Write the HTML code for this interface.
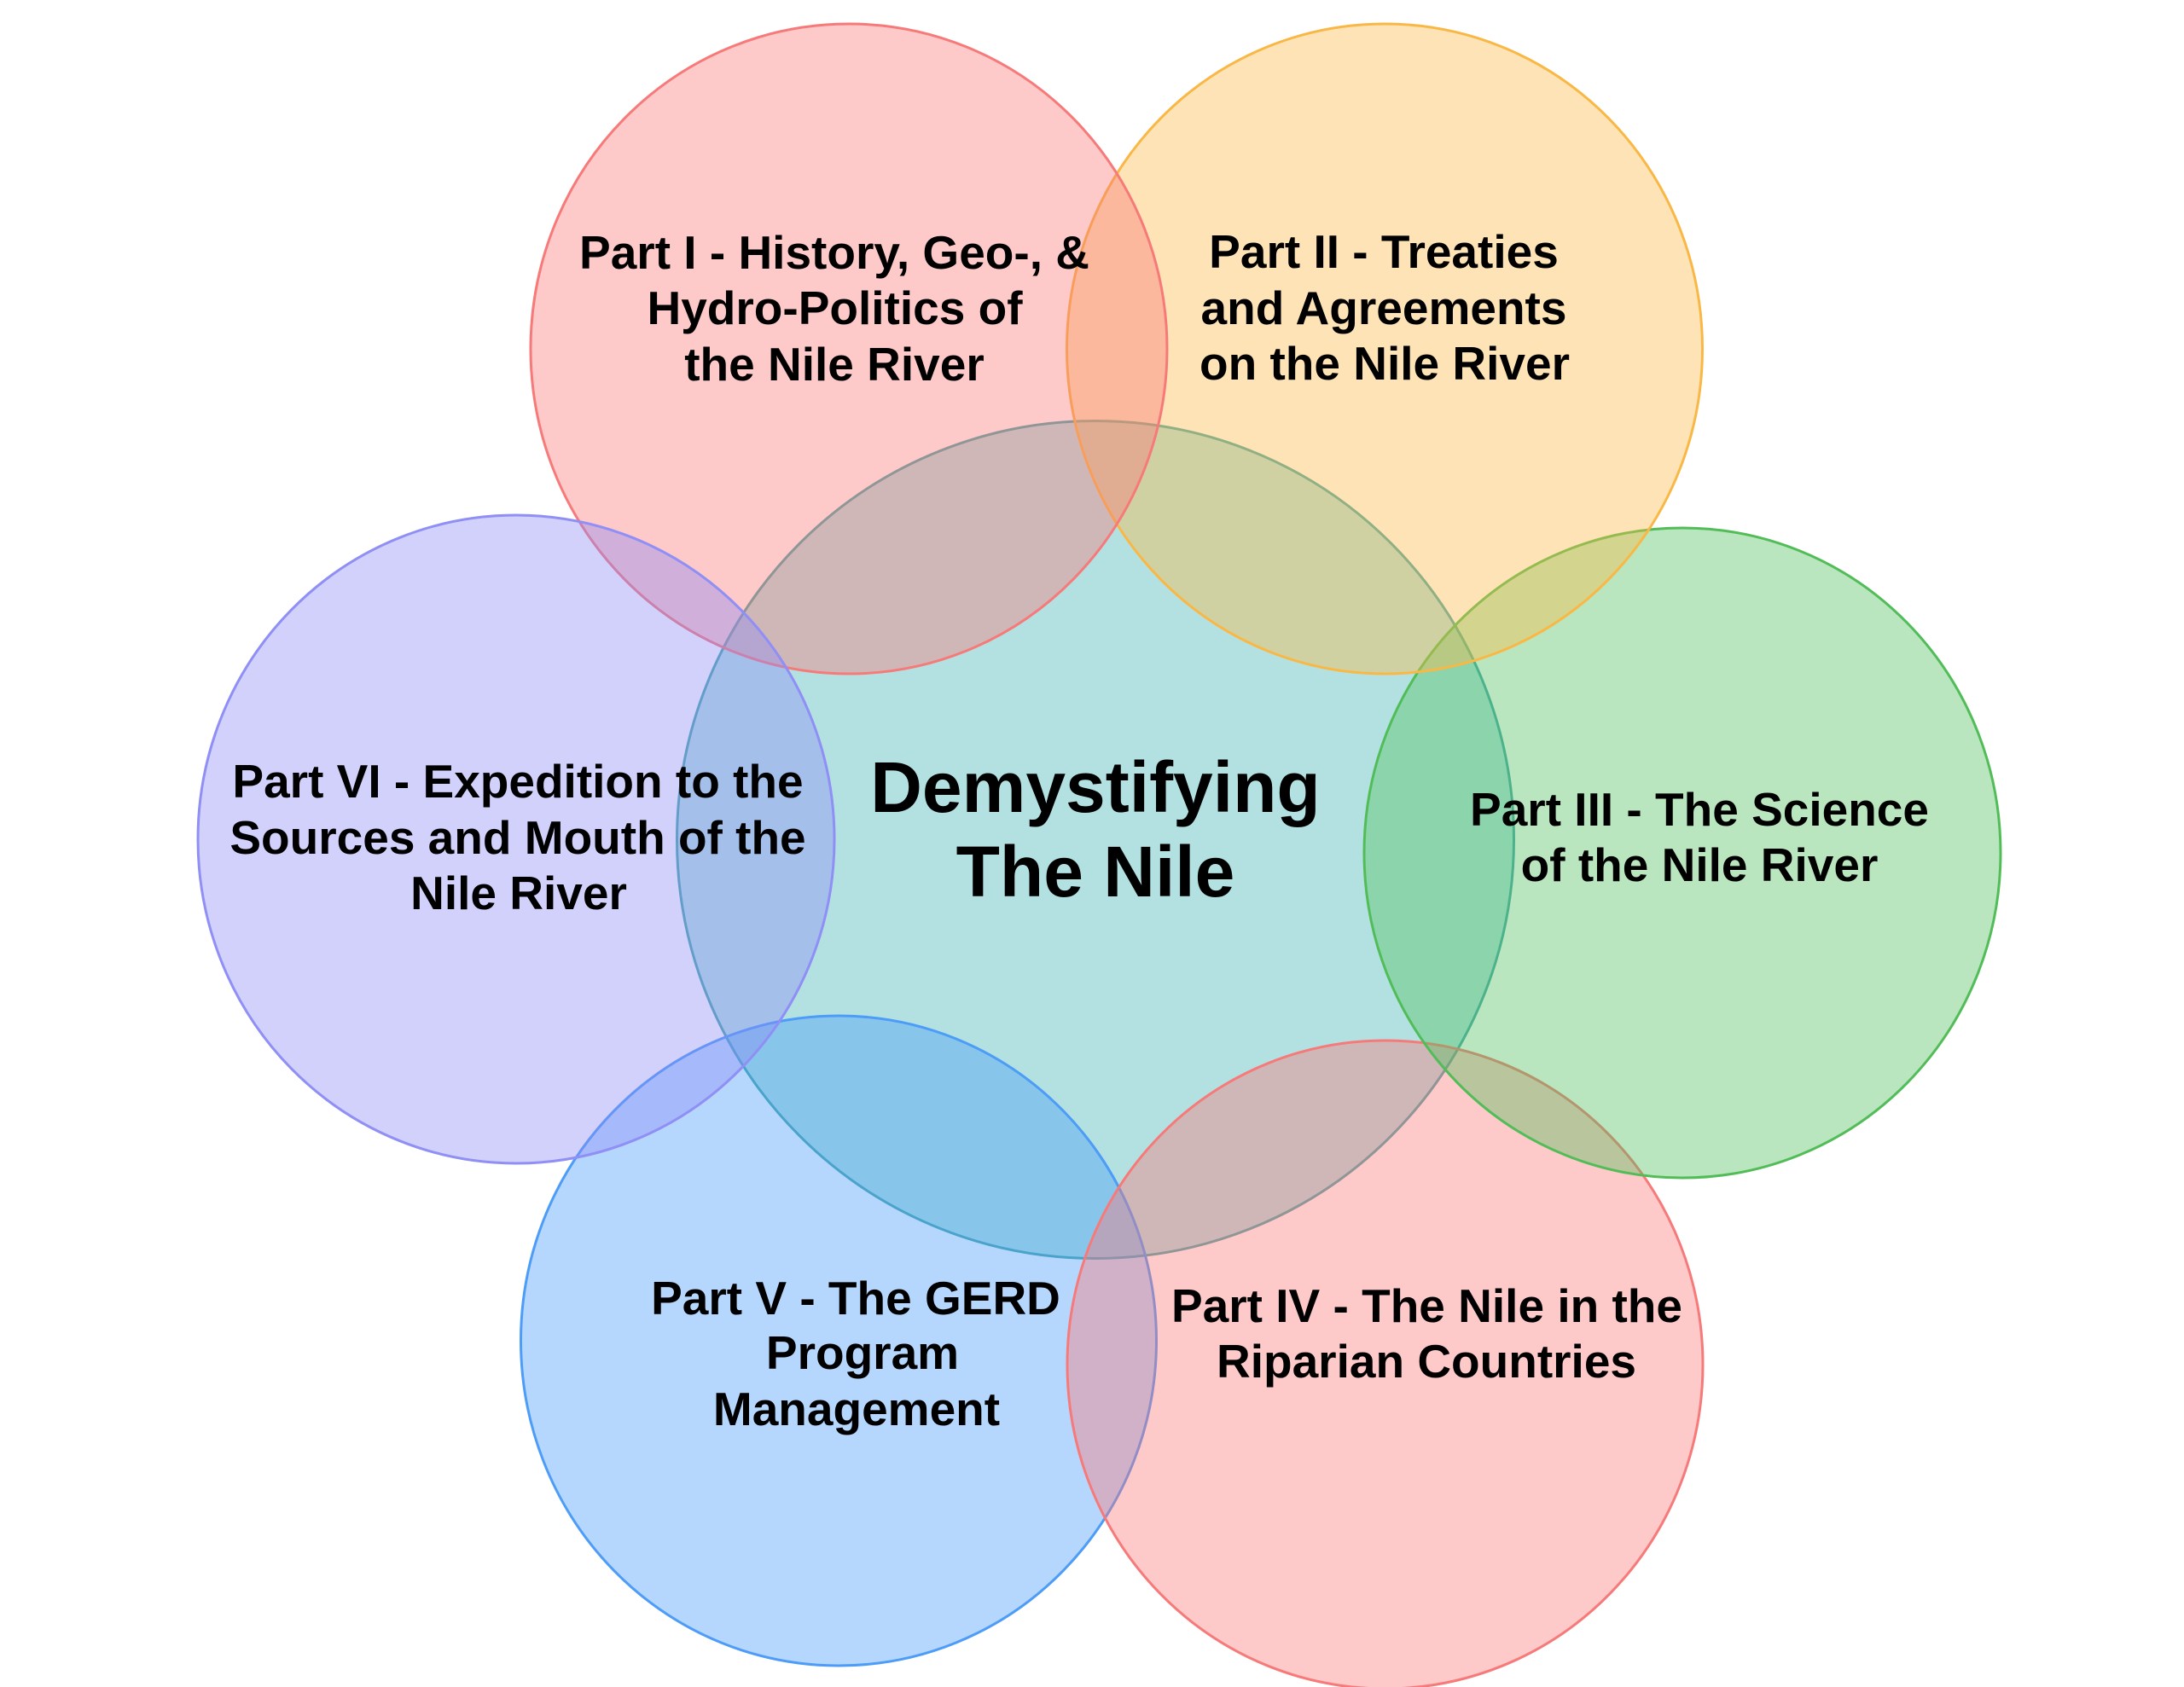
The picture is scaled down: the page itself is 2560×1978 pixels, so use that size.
<!DOCTYPE html>
<html>
<head>
<meta charset="utf-8">
<style>
  html, body { margin: 0; padding: 0; background: #ffffff; }
  body { width: 2560px; height: 1978px; overflow: hidden; }
  svg { display: block; }
  text { font-family: "Liberation Sans", Arial, sans-serif; font-weight: bold; fill: #000; }
</style>
</head>
<body>
<svg width="2560" height="1978" viewBox="0 0 2560 1978" xmlns="http://www.w3.org/2000/svg">
  <rect x="0" y="0" width="2560" height="1978" fill="#ffffff"/>

  <!-- Center -->
  <ellipse cx="1284" cy="984.5" rx="490.5" ry="491" fill="#40b4b6" fill-opacity="0.4" stroke="#4aa9ab" stroke-width="3"/>

  <!-- Part V (blue) -->
  <ellipse cx="983" cy="1572" rx="372.5" ry="381" fill="#489bfa" fill-opacity="0.4" stroke="#4d9cf7" stroke-width="3"/>
  <!-- Part IV (red) -->
  <ellipse cx="1623.5" cy="1600" rx="372.5" ry="380" fill="#fa7878" fill-opacity="0.4" stroke="#f77a7a" stroke-width="3"/>
  <!-- Part III (green) -->
  <ellipse cx="1972" cy="1000" rx="373" ry="381" fill="#50c05c" fill-opacity="0.4" stroke="#52bd58" stroke-width="3"/>
  <!-- Part II (orange) -->
  <ellipse cx="1623" cy="409" rx="372.5" ry="381" fill="#fab946" fill-opacity="0.4" stroke="#f9b846" stroke-width="3"/>
  <!-- Part I (red) -->
  <ellipse cx="995" cy="409" rx="373" ry="381" fill="#fa7878" fill-opacity="0.4" stroke="#f77a7a" stroke-width="3"/>
  <!-- Part VI (purple) -->
  <ellipse cx="605" cy="984" rx="373" ry="380" fill="#8c8cf7" fill-opacity="0.4" stroke="#8f8ff5" stroke-width="3"/>

  <!-- Title -->
  <text x="1284" y="952" font-size="84" text-anchor="middle">Demystifying</text>
  <text x="1284" y="1051" font-size="84" text-anchor="middle">The Nile</text>

  <!-- Part I -->
  <text x="978" y="315" font-size="55" text-anchor="middle">Part I - History, Geo-, &amp;</text>
  <text x="978.5" y="380" font-size="55" text-anchor="middle">Hydro-Politics of</text>
  <text x="978" y="446" font-size="55" text-anchor="middle">the Nile River</text>

  <!-- Part II -->
  <text x="1622" y="314" font-size="55" text-anchor="middle">Part II - Treaties</text>
  <text x="1622" y="380" font-size="55" text-anchor="middle">and Agreements</text>
  <text x="1623" y="445" font-size="55" text-anchor="middle">on the Nile River</text>

  <!-- Part III -->
  <text x="1992" y="968" font-size="55" text-anchor="middle">Part III - The Science</text>
  <text x="1992" y="1033" font-size="55" text-anchor="middle">of the Nile River</text>

  <!-- Part IV -->
  <text x="1672.5" y="1550" font-size="55" text-anchor="middle">Part IV - The Nile in the</text>
  <text x="1672" y="1615" font-size="55" text-anchor="middle">Riparian Countries</text>

  <!-- Part V -->
  <text x="1003" y="1541" font-size="55" text-anchor="middle">Part V - The GERD</text>
  <text x="1011" y="1605" font-size="55" text-anchor="middle">Program</text>
  <text x="1004" y="1671" font-size="55" text-anchor="middle">Management</text>

  <!-- Part VI -->
  <text x="607" y="935" font-size="55" text-anchor="middle">Part VI - Expedition to the</text>
  <text x="607" y="1001" font-size="55" text-anchor="middle">Sources and Mouth of the</text>
  <text x="608" y="1066" font-size="55" text-anchor="middle">Nile River</text>
</svg>
</body>
</html>
